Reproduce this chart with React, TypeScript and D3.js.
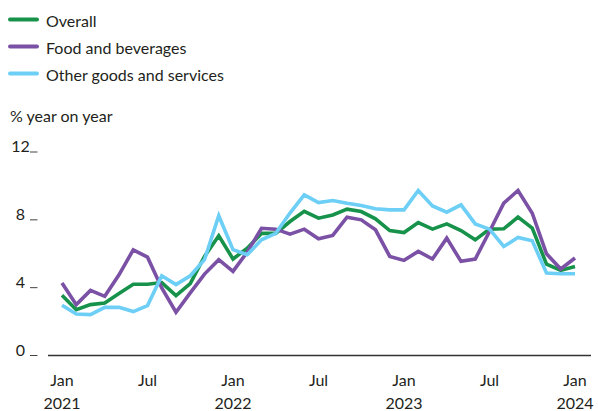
import React, { useEffect, useRef } from 'react';
import * as d3 from 'd3';

// Monthly, Jan 2021 .. Jan 2024, % year on year
const overall = [
  3.55, 2.7, 3.0, 3.1, 3.65, 4.2, 4.2, 4.3, 3.53, 4.24,
  5.84, 7.06, 5.69, 6.33, 7.2, 7.2, 7.9, 8.5, 8.1, 8.29,
  8.63, 8.49, 8.06, 7.37, 7.25, 7.84, 7.45, 7.76, 7.37, 6.82,
  7.45, 7.47, 8.16, 7.51, 5.39, 5.02, 5.25,
];

const food = [
  4.28, 3.0, 3.84, 3.49, 4.76, 6.23, 5.8, 3.98, 2.55, 3.69,
  4.8, 5.65, 4.96, 6.1, 7.5, 7.45, 7.16, 7.45, 6.88, 7.08,
  8.16, 8.0, 7.41, 5.84, 5.61, 6.14, 5.69, 6.92, 5.55, 5.69,
  7.31, 8.98, 9.73, 8.39, 6.0, 5.1, 5.75,
];

const other = [
  2.96, 2.45, 2.41, 2.84, 2.84, 2.59, 2.94, 4.7, 4.18, 4.7,
  5.65, 8.24, 6.24, 5.94, 6.82, 7.2, 8.4, 9.47, 9.02, 9.14,
  8.98, 8.84, 8.65, 8.59, 8.59, 9.73, 8.82, 8.45, 8.88, 7.76,
  7.45, 6.43, 6.96, 6.76, 4.86, 4.82, 4.82,
];

const xTicks = [0, 6, 12, 18, 24, 30, 36];
const xTickMonth = ['Jan', 'Jul', 'Jan', 'Jul', 'Jan', 'Jul', 'Jan'];
const xTickYear = ['2021', '', '2022', '', '2023', '', '2024'];
const yTicks = [0, 4, 8, 12];

const series = [
  { name: 'Overall', color: '#17924a', values: overall },
  { name: 'Food and beverages', color: '#7b51a5', values: food },
  { name: 'Other goods and services', color: '#6dcff6', values: other },
];

const width = 598;
const height = 411;
const font = 'Lato, "Noto Sans", sans-serif';
const textColor = '#231f20';

const App: React.FC = () => {
  const svgRef = useRef<SVGSVGElement>(null);

  useEffect(() => {
    if (!svgRef.current) return;
    const svg = d3.select(svgRef.current);
    svg.selectAll('*').remove();

    const x = d3.scaleLinear().domain([0, 36]).range([62, 575]);
    const y = d3.scaleLinear().domain([0, 12]).range([355.5, 152]);

    // Legend
    const legend = svg.append('g');
    series.forEach((s, i) => {
      const row = legend.append('g').attr('transform', `translate(10, ${19.5 + i * 27})`);
      row.append('line')
        .attr('x1', 0).attr('x2', 27)
        .attr('stroke', s.color)
        .attr('stroke-width', 4)
        .attr('stroke-linecap', 'round');
      row.append('text')
        .attr('x', 36)
        .attr('y', 7)
        .style('font-family', font)
        .style('font-size', '16px')
        .attr('fill', textColor)
        .text(s.name);
    });

    // Axis title
    svg.append('text')
      .attr('x', 10)
      .attr('y', 122)
      .style('font-family', font)
      .style('font-size', '16px')
      .attr('fill', textColor)
      .text('% year on year');

    // Y ticks: label then a short dash at its baseline
    const yAxis = svg.append('g');
    yTicks.forEach(t => {
      yAxis.append('text')
        .attr('x', 20.5)
        .attr('y', y(t))
        .attr('text-anchor', 'middle')
        .style('font-family', font)
        .style('font-size', '16px')
        .attr('fill', textColor)
        .text(t);
      yAxis.append('line')
        .attr('x1', 30).attr('x2', 37.5)
        .attr('y1', y(t)).attr('y2', y(t))
        .attr('stroke', '#444')
        .attr('stroke-width', 1);
    });

    // Baseline
    svg.append('line')
      .attr('x1', 48).attr('x2', 591)
      .attr('y1', y(0)).attr('y2', y(0))
      .attr('stroke', '#333')
      .attr('stroke-width', 1.3);

    // X labels
    const xAxis = svg.append('g');
    xTicks.forEach((t, i) => {
      xAxis.append('text')
        .attr('x', x(t))
        .attr('y', 386)
        .attr('text-anchor', 'middle')
        .style('font-family', font)
        .style('font-size', '16px')
        .attr('fill', textColor)
        .text(xTickMonth[i]);
      if (xTickYear[i]) {
        xAxis.append('text')
          .attr('x', x(t))
          .attr('y', 409)
          .attr('text-anchor', 'middle')
          .style('font-family', font)
          .style('font-size', '16px')
          .attr('fill', textColor)
          .text(xTickYear[i]);
      }
    });

    const line = d3.line<number>()
      .x((_, i) => x(i))
      .y(d => y(d));

    const g = svg.append('g');
    series.forEach(s => {
      g.append('path')
        .datum(s.values)
        .attr('fill', 'none')
        .attr('stroke', s.color)
        .attr('stroke-width', 3.6)
        .attr('stroke-linejoin', 'miter')
        .attr('d', line);
    });
  }, []);

  return (
    <div style={{ position: 'absolute', left: 0, top: 0 }}>
      <svg ref={svgRef} width={width} height={height} style={{ display: 'block', background: '#fff' }} />
    </div>
  );
};

export default App;
